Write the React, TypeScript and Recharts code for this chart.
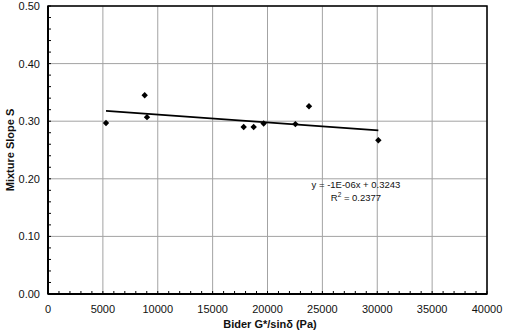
import React from 'react';
import { ScatterChart, Scatter, XAxis, YAxis, ReferenceLine, ReferenceDot } from 'recharts';

const binderX = [5285, 8810, 9020, 17830, 18740, 19650, 22540, 23780, 30100];
const slopeS = [0.297, 0.345, 0.307, 0.29, 0.29, 0.296, 0.295, 0.326, 0.267];
const trendX = [5285, 30100];
const trendY = [0.318, 0.284];
const xTicks = [0, 5000, 10000, 15000, 20000, 25000, 30000, 35000, 40000];
const yTicks = [0, 0.1, 0.2, 0.3, 0.4, 0.5];
const xMinorTicks = Array.from({ length: 41 }, (_, i) => i * 1000);
const yMinorTicks = Array.from({ length: 26 }, (_, i) => Math.round(i * 2) / 100);
const eqnText = 'y = -1E-06x + 0.3243';
const r2Text = '= 0.2377';
const xLabel = 'Bider G*/sinδ (Pa)';
const yLabel = 'Mixture Slope S';

const points = binderX.map((x, i) => ({ x, y: slopeS[i] }));
const trend = trendX.map((x, i) => ({ x, y: trendY[i] }));

const FONT = '"Liberation Sans", Arial, sans-serif';

const Diamond = (props: any) => {
  const { cx, cy } = props;
  if (cx == null || cy == null) return null;
  const r = 3.2;
  return <polygon points={`${cx},${cy - r} ${cx + r},${cy} ${cx},${cy + r} ${cx - r},${cy}`} fill="#000" />;
};

const isMajorX = (v: number) => xTicks.includes(v);
const isMajorY = (v: number) => yTicks.some((t) => Math.abs(t - v) < 1e-9);

const XTick = (props: any) => {
  const { x, y, payload } = props;
  const v = payload.value;
  return (
    <g>
      <line x1={x} x2={x} y1={y - 3} y2={y} stroke="#000" strokeWidth={1} />
      {isMajorX(v) && (
        <text x={x} y={y + 19} textAnchor="middle" fontFamily={FONT} fontSize={11} fill="#111">
          {v}
        </text>
      )}
    </g>
  );
};

const YTick = (props: any) => {
  const { x, y, payload } = props;
  const v = payload.value;
  return (
    <g>
      <line x1={x} x2={x + 3} y1={y} y2={y} stroke="#000" strokeWidth={1} />
      {isMajorY(v) && (
        <text x={x - 8} y={y + 4} textAnchor="end" fontFamily={FONT} fontSize={11} fill="#111">
          {v.toFixed(2)}
        </text>
      )}
    </g>
  );
};

const Annotation = (props: any) => {
  const { viewBox } = props;
  const cx = viewBox.x;
  const cy = viewBox.y;
  return (
    <g fontFamily={FONT} fontSize={9.5} fill="#111">
      <text x={cx} y={cy} textAnchor="middle">{eqnText}</text>
      <text x={cx} y={cy + 13} textAnchor="middle">
        R<tspan fontSize={6.5} dy={-4}>2</tspan><tspan dy={4}> {r2Text}</tspan>
      </text>
    </g>
  );
};

export default function App() {
  return (
    <div style={{ position: 'absolute', left: 0, top: 0, width: 508, height: 336, background: '#fff' }}>
      <ScatterChart width={508} height={336} margin={{ top: 6, right: 21, bottom: 0, left: 0 }}>
        {xTicks.map((t) => (
          <ReferenceLine key={'gx' + t} x={t} stroke="#a3a3a3" strokeWidth={1} />
        ))}
        {yTicks.map((t) => (
          <ReferenceLine key={'gy' + t} y={t} stroke="#a3a3a3" strokeWidth={1} />
        ))}
        <XAxis
          type="number"
          dataKey="x"
          domain={[0, 40000]}
          ticks={xMinorTicks}
          interval={0}
          tickSize={0}
          tickMargin={0}
          tickLine={false}
          axisLine={{ stroke: '#000', strokeWidth: 2 }}
          tick={<XTick />}
          height={42}
        />
        <YAxis
          type="number"
          dataKey="y"
          domain={[0, 0.5]}
          ticks={yMinorTicks}
          interval={0}
          tickSize={0}
          tickMargin={0}
          tickLine={false}
          axisLine={{ stroke: '#000', strokeWidth: 2 }}
          tick={<YTick />}
          width={48}
        />
        <Scatter
          data={trend}
          line={{ stroke: '#000', strokeWidth: 1.6 }}
          shape={() => null}
          isAnimationActive={false}
        />
        <Scatter data={points} shape={Diamond} isAnimationActive={false} />
        <ReferenceDot x={28060} y={0.184} r={0} ifOverflow="visible" label={<Annotation />} />
      </ScatterChart>
      <svg width={508} height={336} style={{ position: 'absolute', left: 0, top: 0, pointerEvents: 'none' }}>
        <rect x={48} y={6} width={439} height={288} fill="none" stroke="#000" strokeWidth={1.5} />
        <text x={270} y={328} textAnchor="middle" fontFamily={FONT} fontSize={11} fontWeight="bold" fill="#111">
          {xLabel}
        </text>
        <text x={0} y={0} transform="translate(14,150) rotate(-90)" textAnchor="middle" fontFamily={FONT} fontSize={11} fontWeight="bold" fill="#111">
          {yLabel}
        </text>
      </svg>
    </div>
  );
}
